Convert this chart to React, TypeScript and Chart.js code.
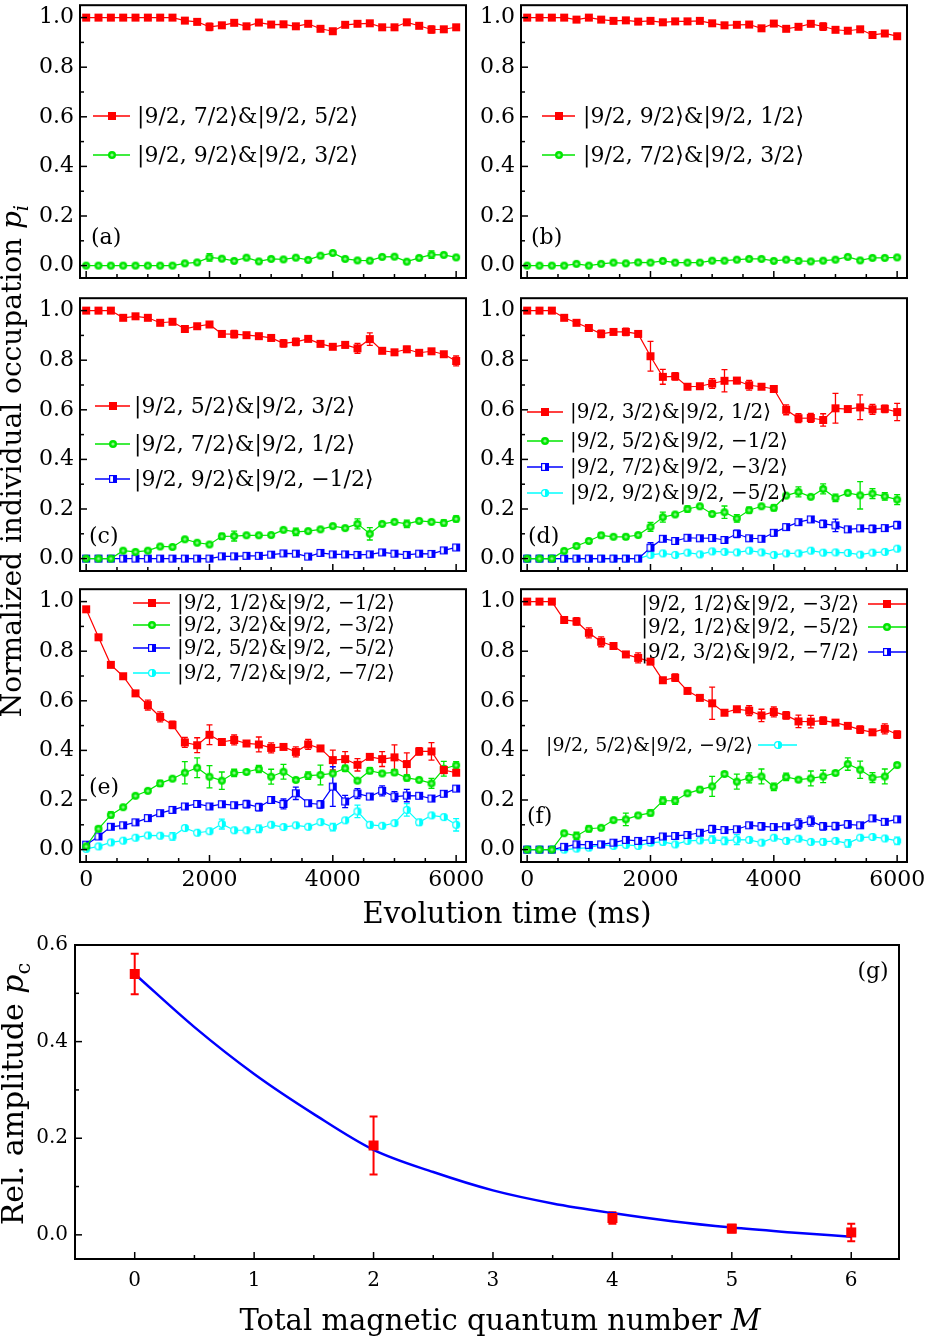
import React, { useEffect, useRef } from "react";
import { Chart, registerables } from "chart.js";
Chart.register(...registerables);

const FONT = '"DejaVu Serif", "Liberation Serif", serif';
const RED = "#ff0000";
const GREEN = "#00e600";
const BLUE = "#0000ff";
const CYAN = "#00ffff";

// ---------- data (a)-(f): evolution time in ms ----------
const TIMES = [0, 200, 400, 600, 800, 1000, 1200, 1400, 1600, 1800, 2000, 2200, 2400, 2600, 2800, 3000, 3200, 3400, 3600, 3800, 4000, 4200, 4400, 4600, 4800, 5000, 5200, 5400, 5600, 5800, 6000];

const aRed = [1, 1, 1, 1, 1, 1, 1, 1, 0.988, 0.983, 0.963, 0.969, 0.979, 0.965, 0.98, 0.972, 0.973, 0.965, 0.975, 0.955, 0.945, 0.971, 0.975, 0.977, 0.961, 0.961, 0.981, 0.967, 0.952, 0.953, 0.961];
const aRedErr = [0, 0, 0, 0, 0, 0, 0, 0, 0, 0, 0.015, 0, 0, 0, 0, 0, 0, 0, 0, 0, 0, 0, 0, 0, 0, 0, 0, 0, 0.015, 0, 0];
const aGreen = [0, 0, 0, 0, 0, 0, 0, 0, 0.009, 0.013, 0.033, 0.028, 0.019, 0.032, 0.017, 0.027, 0.025, 0.032, 0.023, 0.04, 0.051, 0.027, 0.021, 0.02, 0.035, 0.036, 0.016, 0.031, 0.044, 0.043, 0.033];
const aGreenErr = [0, 0, 0, 0, 0, 0, 0, 0, 0, 0, 0.015, 0, 0, 0, 0, 0, 0, 0, 0, 0, 0, 0, 0, 0, 0, 0, 0, 0, 0.015, 0, 0];

const bRed = [1, 1, 1, 1, 0.992, 1, 0.992, 0.987, 0.989, 0.984, 0.987, 0.981, 0.985, 0.985, 0.987, 0.977, 0.969, 0.971, 0.972, 0.957, 0.976, 0.955, 0.963, 0.975, 0.964, 0.951, 0.947, 0.953, 0.93, 0.936, 0.925];
const bRedErr = [0, 0, 0, 0, 0, 0, 0, 0, 0, 0.008, 0, 0, 0, 0, 0, 0, 0, 0, 0, 0, 0, 0, 0, 0, 0.015, 0, 0, 0, 0, 0, 0.008];
const bGreen = [0, 0, 0, 0, 0.007, 0, 0.007, 0.012, 0.009, 0.013, 0.012, 0.019, 0.012, 0.012, 0.012, 0.02, 0.02, 0.024, 0.027, 0.027, 0.019, 0.024, 0.019, 0.017, 0.02, 0.024, 0.035, 0.021, 0.031, 0.031, 0.033];
const bGreenErr = [0, 0, 0, 0, 0, 0, 0, 0, 0, 0.008, 0, 0, 0, 0, 0, 0, 0, 0, 0, 0, 0, 0, 0, 0, 0, 0, 0, 0, 0, 0, 0];

const cRed = [1, 1, 1, 0.971, 0.977, 0.971, 0.951, 0.955, 0.926, 0.937, 0.944, 0.906, 0.905, 0.901, 0.897, 0.89, 0.868, 0.874, 0.886, 0.866, 0.854, 0.862, 0.848, 0.885, 0.838, 0.832, 0.844, 0.83, 0.836, 0.824, 0.797];
const cRedErr = [0, 0, 0, 0, 0, 0, 0, 0, 0, 0, 0, 0, 0.015, 0, 0, 0.012, 0.015, 0.015, 0, 0, 0, 0.012, 0.02, 0.025, 0, 0, 0.012, 0, 0, 0, 0.02];
const cGreen = [0, 0, 0, 0.032, 0.027, 0.032, 0.049, 0.047, 0.078, 0.064, 0.057, 0.09, 0.091, 0.094, 0.094, 0.095, 0.116, 0.108, 0.111, 0.118, 0.131, 0.123, 0.14, 0.1, 0.14, 0.148, 0.14, 0.152, 0.148, 0.144, 0.16];
const cGreenErr = [0, 0, 0, 0, 0, 0, 0, 0, 0, 0, 0, 0.012, 0.02, 0, 0, 0, 0, 0.015, 0, 0, 0, 0, 0.02, 0.025, 0, 0, 0.015, 0, 0, 0.012, 0.012];
const cBlue = [0, 0, 0, 0, 0, 0, 0, 0, 0, 0, 0, 0.009, 0.009, 0.011, 0.011, 0.016, 0.021, 0.02, 0.008, 0.023, 0.017, 0.017, 0.015, 0.017, 0.025, 0.02, 0.015, 0.02, 0.019, 0.033, 0.045];
const cBlueErr = [0, 0, 0, 0, 0, 0, 0, 0, 0, 0, 0, 0, 0, 0, 0, 0, 0, 0, 0, 0, 0, 0, 0, 0, 0, 0, 0, 0, 0, 0.01, 0.01];

const dRed = [1, 1, 1, 0.971, 0.951, 0.93, 0.906, 0.914, 0.914, 0.906, 0.816, 0.733, 0.735, 0.693, 0.695, 0.706, 0.717, 0.718, 0.699, 0.693, 0.684, 0.6, 0.566, 0.567, 0.559, 0.606, 0.603, 0.61, 0.602, 0.604, 0.591];
const dRedErr = [0, 0, 0, 0, 0.008, 0, 0.015, 0, 0.015, 0, 0.06, 0.03, 0.015, 0, 0, 0.02, 0.045, 0.012, 0.02, 0, 0, 0.02, 0.018, 0.018, 0.025, 0.06, 0, 0.05, 0.02, 0.015, 0.035];
const dGreen = [0, 0, 0, 0.031, 0.051, 0.071, 0.094, 0.088, 0.088, 0.095, 0.128, 0.167, 0.178, 0.2, 0.211, 0.18, 0.187, 0.162, 0.195, 0.211, 0.205, 0.254, 0.269, 0.249, 0.281, 0.245, 0.265, 0.255, 0.262, 0.251, 0.238];
const dGreenErr = [0, 0, 0, 0, 0.008, 0, 0.01, 0, 0.01, 0, 0.018, 0.02, 0, 0.012, 0, 0, 0.025, 0.015, 0.012, 0, 0.012, 0, 0.02, 0, 0.02, 0.015, 0, 0.055, 0.02, 0.015, 0.02];
const dBlue = [0, 0, 0, 0, 0, 0, 0, 0, 0, 0, 0.044, 0.08, 0.071, 0.084, 0.082, 0.083, 0.075, 0.1, 0.082, 0.08, 0.104, 0.127, 0.147, 0.158, 0.14, 0.134, 0.118, 0.122, 0.12, 0.123, 0.135];
const dBlueErr = [0, 0, 0, 0, 0, 0, 0, 0, 0, 0, 0.02, 0, 0.01, 0, 0, 0, 0.012, 0.015, 0.01, 0, 0.012, 0.01, 0, 0, 0.015, 0.025, 0, 0, 0.015, 0, 0.015];
const dCyan = [0, 0, 0, 0, 0, 0, 0, 0, 0, 0, 0.015, 0.021, 0.015, 0.024, 0.017, 0.029, 0.027, 0.025, 0.032, 0.025, 0.015, 0.021, 0.021, 0.032, 0.024, 0.025, 0.023, 0.016, 0.024, 0.027, 0.04];
const dCyanErr = [0, 0, 0, 0, 0, 0, 0, 0, 0, 0, 0, 0, 0, 0, 0, 0.008, 0.008, 0, 0, 0, 0, 0, 0, 0, 0, 0, 0, 0, 0, 0, 0];

const eRed = [0.969, 0.856, 0.745, 0.699, 0.63, 0.583, 0.535, 0.503, 0.432, 0.421, 0.463, 0.434, 0.442, 0.428, 0.424, 0.41, 0.414, 0.394, 0.424, 0.408, 0.361, 0.365, 0.342, 0.374, 0.365, 0.372, 0.345, 0.396, 0.396, 0.321, 0.31];
const eRedErr = [0.01, 0.01, 0.01, 0.01, 0.008, 0.02, 0.02, 0.015, 0.02, 0.03, 0.04, 0.005, 0.02, 0.005, 0.03, 0.02, 0.01, 0.02, 0.02, 0.005, 0.04, 0.03, 0.025, 0.005, 0.03, 0.05, 0.045, 0.015, 0.035, 0.015, 0.01];
const eGreen = [0.013, 0.084, 0.14, 0.171, 0.217, 0.237, 0.267, 0.286, 0.31, 0.33, 0.294, 0.278, 0.309, 0.313, 0.325, 0.294, 0.314, 0.281, 0.298, 0.301, 0.307, 0.328, 0.278, 0.318, 0.307, 0.311, 0.289, 0.281, 0.267, 0.326, 0.34];
const eGreenErr = [0, 0.01, 0.012, 0.005, 0.005, 0.005, 0.012, 0.005, 0.045, 0.04, 0.045, 0.035, 0.015, 0.008, 0.015, 0.03, 0.03, 0.008, 0.015, 0.04, 0.005, 0.012, 0.008, 0.012, 0.008, 0.01, 0.012, 0.005, 0.02, 0.03, 0.015];
const eBlue = [0.02, 0.053, 0.092, 0.098, 0.11, 0.127, 0.147, 0.16, 0.174, 0.184, 0.174, 0.183, 0.179, 0.183, 0.171, 0.2, 0.184, 0.227, 0.187, 0.182, 0.254, 0.194, 0.226, 0.214, 0.237, 0.214, 0.218, 0.217, 0.206, 0.225, 0.246];
const eBlueErr = [0.005, 0.01, 0.005, 0.005, 0.005, 0.01, 0.005, 0.005, 0.008, 0.005, 0.005, 0.005, 0.005, 0.015, 0.015, 0.005, 0.02, 0.025, 0.005, 0.015, 0.08, 0.025, 0.02, 0.008, 0.02, 0.02, 0.025, 0.008, 0.005, 0.005, 0.005];
const eCyan = [0.003, 0.013, 0.029, 0.036, 0.048, 0.057, 0.056, 0.053, 0.087, 0.068, 0.074, 0.103, 0.078, 0.078, 0.084, 0.1, 0.091, 0.098, 0.092, 0.111, 0.091, 0.118, 0.154, 0.1, 0.096, 0.107, 0.16, 0.11, 0.138, 0.131, 0.1];
const eCyanErr = [0.005, 0.005, 0.005, 0.005, 0.005, 0.008, 0.005, 0.015, 0.008, 0.005, 0.005, 0.02, 0.005, 0.005, 0.015, 0.005, 0.008, 0.005, 0.005, 0.008, 0.015, 0.008, 0.025, 0.012, 0.005, 0.005, 0.025, 0.012, 0.005, 0.005, 0.025];

const fRed = [1, 1, 1, 0.926, 0.92, 0.874, 0.838, 0.821, 0.787, 0.773, 0.758, 0.683, 0.693, 0.64, 0.612, 0.59, 0.552, 0.566, 0.56, 0.541, 0.555, 0.541, 0.517, 0.516, 0.52, 0.512, 0.499, 0.484, 0.473, 0.487, 0.464];
const fRedErr = [0, 0, 0, 0.008, 0.015, 0.02, 0.02, 0.008, 0.008, 0.02, 0.008, 0.008, 0.015, 0.008, 0.008, 0.065, 0.008, 0.008, 0.02, 0.025, 0.02, 0.015, 0.025, 0.025, 0.015, 0.008, 0.008, 0.015, 0.008, 0.02, 0.015];
const fGreen = [0, 0, 0, 0.066, 0.055, 0.084, 0.088, 0.119, 0.122, 0.138, 0.148, 0.197, 0.197, 0.227, 0.242, 0.255, 0.305, 0.274, 0.289, 0.295, 0.253, 0.293, 0.282, 0.287, 0.295, 0.309, 0.345, 0.322, 0.29, 0.295, 0.341];
const fGreenErr = [0, 0, 0, 0.008, 0.015, 0.012, 0.008, 0.008, 0.025, 0.008, 0.012, 0.015, 0.015, 0.008, 0.01, 0.04, 0.008, 0.03, 0.02, 0.03, 0.015, 0.015, 0.008, 0.03, 0.025, 0.008, 0.025, 0.035, 0.02, 0.03, 0.01];
const fBlue = [0, 0, 0, 0.011, 0.021, 0.019, 0.021, 0.028, 0.039, 0.035, 0.039, 0.053, 0.055, 0.059, 0.068, 0.083, 0.079, 0.082, 0.098, 0.094, 0.091, 0.094, 0.104, 0.115, 0.094, 0.095, 0.102, 0.098, 0.126, 0.112, 0.122];
const fBlueErr = [0, 0, 0, 0.005, 0.008, 0.005, 0.005, 0.005, 0.008, 0.008, 0.005, 0.005, 0.005, 0.005, 0.005, 0.015, 0.008, 0.005, 0.005, 0.015, 0.008, 0.008, 0.02, 0.02, 0.015, 0.015, 0.015, 0.005, 0.005, 0.005, 0.008];
const fCyan = [0, 0, 0, 0, 0.004, 0.008, 0.019, 0.015, 0.019, 0.015, 0.028, 0.031, 0.021, 0.035, 0.037, 0.04, 0.035, 0.04, 0.039, 0.028, 0.048, 0.035, 0.044, 0.031, 0.031, 0.035, 0.025, 0.048, 0.051, 0.045, 0.035];
const fCyanErr = [0, 0, 0, 0, 0, 0, 0, 0, 0, 0, 0.01, 0.012, 0, 0, 0, 0.015, 0.015, 0.02, 0, 0, 0, 0, 0, 0, 0.012, 0, 0.015, 0, 0, 0, 0.015];

// ---------- data (g) ----------
const M_VALUES = [0, 2, 4, 5, 6];
const PC_VALUES = [0.54, 0.185, 0.035, 0.013, 0.005];
const PC_ERRORS = [0.042, 0.06, 0.012, 0.008, 0.018];
const FIT_M = [0, 0.5, 1, 1.5, 2, 2.5, 3, 3.5, 4, 4.5, 5, 5.5, 6];
const FIT_PC = [0.54, 0.43, 0.333, 0.25, 0.176, 0.13, 0.092, 0.065, 0.045, 0.028, 0.015, 0.005, -0.004];

// ---------- ticks ----------
const Y_TICKS = [0, 0.2, 0.4, 0.6, 0.8, 1.0];
const Y_MINOR = [0.1, 0.3, 0.5, 0.7, 0.9];
const X_TICKS = [0, 2000, 4000, 6000];
const X_MINOR = [500, 1000, 1500, 2500, 3000, 3500, 4500, 5000, 5500];
const M_TICKS = [0, 1, 2, 3, 4, 5, 6];
const M_MINOR = [0.5, 1.5, 2.5, 3.5, 4.5, 5.5];
const PC_TICKS = [0, 0.2, 0.4, 0.6];
const PC_MINOR = [0.1, 0.3, 0.5];

type Shape = "square" | "circle" | "halfSquare" | "halfCircle";

function makeMarker(shape: Shape, color: string, size: number): HTMLCanvasElement {
  const c = document.createElement("canvas");
  const s = Math.ceil(size) + 4;
  c.width = s;
  c.height = s;
  const g = c.getContext("2d")!;
  const cx = s / 2, cy = s / 2, r = size / 2;
  if (shape === "square") {
    g.fillStyle = color;
    g.fillRect(cx - r, cy - r, size, size);
  } else if (shape === "circle") {
    g.fillStyle = color;
    g.beginPath(); g.arc(cx, cy, r, 0, Math.PI * 2); g.fill();
    g.fillStyle = "rgba(255,255,255,0.55)";
    g.beginPath(); g.arc(cx, cy, r * 0.4, 0, Math.PI * 2); g.fill();
  } else if (shape === "halfSquare") {
    g.fillStyle = "#fff";
    g.fillRect(cx - r, cy - r, size, size);
    g.fillStyle = color;
    g.fillRect(cx, cy - r, r, size);
    g.strokeStyle = color; g.lineWidth = 1.2;
    g.strokeRect(cx - r + 0.6, cy - r + 0.6, size - 1.2, size - 1.2);
  } else {
    g.fillStyle = "#fff";
    g.beginPath(); g.arc(cx, cy, r, 0, Math.PI * 2); g.fill();
    g.fillStyle = color;
    g.beginPath(); g.moveTo(cx, cy); g.arc(cx, cy, r, -Math.PI / 2, Math.PI / 2); g.closePath(); g.fill();
    g.strokeStyle = color; g.lineWidth = 1.2;
    g.beginPath(); g.arc(cx, cy, r - 0.6, 0, Math.PI * 2); g.stroke();
  }
  return c;
}

type Series = { label: string; values: number[]; errors: number[]; color: string; shape: Shape };
type LegendPos = { x1: number; x2: number; y: number; tx: number; align: "left" | "right"; size: number };
type PanelSpec = { key: string; left: number; top: number; showX: boolean; series: Series[]; legend: LegendPos[]; tag: { text: string; x: number; y: number } };

const AREA_W = 386;
const AREA_H = 274;

const lp = (x1: number, x2: number, tx: number, ys: number[], size: number): LegendPos[] =>
  ys.map((y) => ({ x1, x2, y, tx, align: "left" as const, size }));

const PANELS: PanelSpec[] = [
  {
    key: "a", left: 80, top: 4, showX: false, tag: { text: "(a)", x: 91, y: 238 },
    series: [
      { label: "|9/2, 7/2⟩&|9/2, 5/2⟩", values: aRed, errors: aRedErr, color: RED, shape: "square" },
      { label: "|9/2, 9/2⟩&|9/2, 3/2⟩", values: aGreen, errors: aGreenErr, color: GREEN, shape: "circle" },
    ],
    legend: lp(93, 130, 137, [116, 155], 22),
  },
  {
    key: "b", left: 521, top: 4, showX: false, tag: { text: "(b)", x: 531, y: 238 },
    series: [
      { label: "|9/2, 9/2⟩&|9/2, 1/2⟩", values: bRed, errors: bRedErr, color: RED, shape: "square" },
      { label: "|9/2, 7/2⟩&|9/2, 3/2⟩", values: bGreen, errors: bGreenErr, color: GREEN, shape: "circle" },
    ],
    legend: lp(542, 575, 583, [116, 155], 22),
  },
  {
    key: "c", left: 80, top: 297, showX: false, tag: { text: "(c)", x: 89, y: 537 },
    series: [
      { label: "|9/2, 5/2⟩&|9/2, 3/2⟩", values: cRed, errors: cRedErr, color: RED, shape: "square" },
      { label: "|9/2, 7/2⟩&|9/2, 1/2⟩", values: cGreen, errors: cGreenErr, color: GREEN, shape: "circle" },
      { label: "|9/2, 9/2⟩&|9/2, −1/2⟩", values: cBlue, errors: cBlueErr, color: BLUE, shape: "halfSquare" },
    ],
    legend: lp(95, 130, 134, [406, 444, 479], 22),
  },
  {
    key: "d", left: 521, top: 297, showX: false, tag: { text: "(d)", x: 528, y: 537 },
    series: [
      { label: "|9/2, 3/2⟩&|9/2, 1/2⟩", values: dRed, errors: dRedErr, color: RED, shape: "square" },
      { label: "|9/2, 5/2⟩&|9/2, −1/2⟩", values: dGreen, errors: dGreenErr, color: GREEN, shape: "circle" },
      { label: "|9/2, 7/2⟩&|9/2, −3/2⟩", values: dBlue, errors: dBlueErr, color: BLUE, shape: "halfSquare" },
      { label: "|9/2, 9/2⟩&|9/2, −5/2⟩", values: dCyan, errors: dCyanErr, color: CYAN, shape: "halfCircle" },
    ],
    legend: lp(527, 563, 570, [412, 441, 467, 493], 20),
  },
  {
    key: "e", left: 80, top: 588, showX: true, tag: { text: "(e)", x: 89, y: 788 },
    series: [
      { label: "|9/2, 1/2⟩&|9/2, −1/2⟩", values: eRed, errors: eRedErr, color: RED, shape: "square" },
      { label: "|9/2, 3/2⟩&|9/2, −3/2⟩", values: eGreen, errors: eGreenErr, color: GREEN, shape: "circle" },
      { label: "|9/2, 5/2⟩&|9/2, −5/2⟩", values: eBlue, errors: eBlueErr, color: BLUE, shape: "halfSquare" },
      { label: "|9/2, 7/2⟩&|9/2, −7/2⟩", values: eCyan, errors: eCyanErr, color: CYAN, shape: "halfCircle" },
    ],
    legend: lp(133, 170, 177, [603, 625, 648, 673], 20),
  },
  {
    key: "f", left: 521, top: 588, showX: true, tag: { text: "(f)", x: 527, y: 817 },
    series: [
      { label: "|9/2, 1/2⟩&|9/2, −3/2⟩", values: fRed, errors: fRedErr, color: RED, shape: "square" },
      { label: "|9/2, 1/2⟩&|9/2, −5/2⟩", values: fGreen, errors: fGreenErr, color: GREEN, shape: "circle" },
      { label: "|9/2, 3/2⟩&|9/2, −7/2⟩", values: fBlue, errors: fBlueErr, color: BLUE, shape: "halfSquare" },
      { label: "|9/2, 5/2⟩&|9/2, −9/2⟩", values: fCyan, errors: fCyanErr, color: CYAN, shape: "halfCircle" },
    ],
    legend: [
      { x1: 868, x2: 906, y: 604, tx: 859, align: "right", size: 20 },
      { x1: 868, x2: 906, y: 627, tx: 859, align: "right", size: 20 },
      { x1: 868, x2: 906, y: 652, tx: 859, align: "right", size: 20 },
      { x1: 758, x2: 797, y: 745, tx: 753, align: "right", size: 19 },
    ],
  },
];

function errorBarPlugin(cap: number, width: number) {
  return {
    id: "errorBars",
    beforeDatasetsDraw(chart: any) {
      const ctx = chart.ctx;
      const y = chart.scales.y;
      ctx.save();
      chart.data.datasets.forEach((ds: any, i: number) => {
        if (!ds.errors) return;
        const meta = chart.getDatasetMeta(i);
        ctx.strokeStyle = ds.borderColor;
        ctx.lineWidth = width;
        meta.data.forEach((el: any, j: number) => {
          const e = ds.errors[j];
          if (!e) return;
          const v = ds.data[j].y;
          const px = el.x;
          const yt = y.getPixelForValue(v + e);
          const yb = y.getPixelForValue(v - e);
          ctx.beginPath();
          ctx.moveTo(px, yt); ctx.lineTo(px, yb);
          ctx.moveTo(px - cap, yt); ctx.lineTo(px + cap, yt);
          ctx.moveTo(px - cap, yb); ctx.lineTo(px + cap, yb);
          ctx.stroke();
        });
      });
      ctx.restore();
    },
  };
}

function framePlugin(xMajor: number[], xMinor: number[], yMajor: number[], yMinor: number[]) {
  return {
    id: "frame",
    afterDraw(chart: any) {
      const { ctx, chartArea } = chart;
      const { left, right, top, bottom } = chartArea;
      const xs = chart.scales.x, ys = chart.scales.y;
      ctx.save();
      ctx.strokeStyle = "#000";
      ctx.lineWidth = 1.5;
      const tick = (x1: number, y1: number, x2: number, y2: number) => {
        ctx.beginPath(); ctx.moveTo(x1, y1); ctx.lineTo(x2, y2); ctx.stroke();
      };
      xMajor.forEach((v) => { const p = xs.getPixelForValue(v); tick(p, bottom, p, bottom - 7); });
      xMinor.forEach((v) => { const p = xs.getPixelForValue(v); tick(p, bottom, p, bottom - 4); });
      yMajor.forEach((v) => { const p = ys.getPixelForValue(v); tick(left, p, left + 7, p); });
      yMinor.forEach((v) => { const p = ys.getPixelForValue(v); tick(left, p, left + 4, p); });
      ctx.lineWidth = 2;
      ctx.strokeRect(left, top, right - left, bottom - top);
      ctx.restore();
    },
  };
}

function Panel({ spec }: { spec: PanelSpec }) {
  const ref = useRef<HTMLCanvasElement>(null);
  const yw = 70;
  const padTop = 4;
  const padRight = 22;
  const xh = spec.showX ? 40 : 6;
  const cl = spec.left - yw;
  const ct = spec.top - padTop;
  const cw = yw + AREA_W + padRight;
  const ch = padTop + AREA_H + xh;

  useEffect(() => {
    const markers = spec.series.map((s) => makeMarker(s.shape, s.color, 8));
    const annot = {
      id: "annot",
      afterDraw(chart: any) {
        const ctx = chart.ctx;
        ctx.save();
        spec.legend.forEach((L, i) => {
          const s = spec.series[i];
          const x1 = L.x1 - cl, x2 = L.x2 - cl, y = L.y - ct;
          ctx.strokeStyle = s.color;
          ctx.lineWidth = 1.5;
          ctx.beginPath(); ctx.moveTo(x1, y); ctx.lineTo(x2, y); ctx.stroke();
          const img = markers[i];
          ctx.drawImage(img, Math.round((x1 + x2) / 2 - img.width / 2), Math.round(y - img.height / 2));
          ctx.fillStyle = "#000";
          ctx.font = `${L.size}px ${FONT}`;
          ctx.textBaseline = "middle";
          ctx.textAlign = L.align;
          ctx.fillText(s.label, L.tx - cl, y + 1);
        });
        ctx.font = `22px ${FONT}`;
        ctx.fillStyle = "#000";
        ctx.textAlign = "left";
        ctx.textBaseline = "middle";
        ctx.fillText(spec.tag.text, spec.tag.x - cl, spec.tag.y - ct);
        ctx.restore();
      },
    };
    const chart = new Chart(ref.current!, {
      type: "scatter",
      data: {
        datasets: spec.series.map((s, i) => ({
          label: s.label,
          data: TIMES.map((t, j) => ({ x: t, y: s.values[j] })),
          errors: s.errors,
          showLine: true,
          borderColor: s.color,
          backgroundColor: s.color,
          borderWidth: 1.2,
          pointStyle: markers[i],
          pointRadius: 4,
          pointHoverRadius: 4,
          tension: 0,
        })) as any,
      },
      options: {
        responsive: false,
        animation: false,
        events: [],
        layout: { padding: { left: 0, top: padTop, right: padRight, bottom: 0 } },
        plugins: { legend: { display: false }, tooltip: { enabled: false } },
        scales: {
          x: {
            type: "linear",
            min: -100,
            max: 6160,
            grid: { display: false, drawTicks: false },
            border: { display: false },
            afterBuildTicks: (s: any) => { s.ticks = X_TICKS.map((v) => ({ value: v })); },
            ticks: {
              display: spec.showX,
              font: { family: FONT, size: 22 },
              color: "#000",
              padding: 5,
              maxRotation: 0,
              autoSkip: false,
              callback: (v: any) => String(v),
            },
            afterFit: (s: any) => { s.height = xh; s.paddingLeft = 0; s.paddingRight = 0; },
          },
          y: {
            type: "linear",
            min: -0.05,
            max: 1.05,
            grid: { display: false, drawTicks: false },
            border: { display: false },
            afterBuildTicks: (s: any) => { s.ticks = Y_TICKS.map((v) => ({ value: v })); },
            ticks: {
              font: { family: FONT, size: 22 },
              color: "#000",
              padding: 6,
              callback: (v: any) => Number(v).toFixed(1),
            },
            afterFit: (s: any) => { s.width = yw; s.paddingTop = 0; s.paddingBottom = 0; },
          },
        },
      } as any,
      plugins: [errorBarPlugin(3, 1.3), framePlugin(X_TICKS, X_MINOR, Y_TICKS, Y_MINOR), annot],
    });
    return () => chart.destroy();
  }, []);

  return (
    <canvas
      ref={ref}
      width={cw}
      height={ch}
      style={{ position: "absolute", left: cl, top: ct, width: cw, height: ch }}
    />
  );
}

function PanelG() {
  const ref = useRef<HTMLCanvasElement>(null);
  const cl = 0, ct = 930, cw = 930, ch = 374;
  useEffect(() => {
    const marker = makeMarker("square", RED, 10);
    const annot = {
      id: "annotG",
      afterDraw(chart: any) {
        const ctx = chart.ctx;
        ctx.save();
        ctx.font = `22px ${FONT}`;
        ctx.fillStyle = "#000";
        ctx.textAlign = "center";
        ctx.textBaseline = "middle";
        ctx.fillText("(g)", 873 - cl, 972 - ct);
        ctx.restore();
      },
    };
    const chart = new Chart(ref.current!, {
      type: "scatter",
      data: {
        datasets: [
          {
            label: "measured",
            data: M_VALUES.map((m, i) => ({ x: m, y: PC_VALUES[i] })),
            errors: PC_ERRORS,
            showLine: false,
            borderColor: RED,
            backgroundColor: RED,
            pointStyle: marker,
            pointRadius: 5,
          },
          {
            label: "fit",
            data: FIT_M.map((m, i) => ({ x: m, y: FIT_PC[i] })),
            showLine: true,
            borderColor: BLUE,
            backgroundColor: BLUE,
            borderWidth: 2.5,
            pointRadius: 0,
            cubicInterpolationMode: "monotone",
          },
        ] as any,
      },
      options: {
        responsive: false,
        animation: false,
        events: [],
        layout: { padding: { left: 0, top: 15, right: 31, bottom: 0 } },
        plugins: { legend: { display: false }, tooltip: { enabled: false } },
        scales: {
          x: {
            type: "linear",
            min: -0.5,
            max: 6.4,
            grid: { display: false, drawTicks: false },
            border: { display: false },
            afterBuildTicks: (s: any) => { s.ticks = M_TICKS.map((v) => ({ value: v })); },
            ticks: { font: { family: FONT, size: 20 }, color: "#000", padding: 10, maxRotation: 0, autoSkip: false, callback: (v: any) => String(v) },
            afterFit: (s: any) => { s.height = 45; s.paddingLeft = 0; s.paddingRight = 0; },
          },
          y: {
            type: "linear",
            min: -0.05,
            max: 0.6,
            grid: { display: false, drawTicks: false },
            border: { display: false },
            afterBuildTicks: (s: any) => { s.ticks = PC_TICKS.map((v) => ({ value: v })); },
            ticks: { font: { family: FONT, size: 20 }, color: "#000", padding: 7, callback: (v: any) => Number(v).toFixed(1) },
            afterFit: (s: any) => { s.width = 75; s.paddingTop = 0; s.paddingBottom = 0; },
          },
        },
      } as any,
      plugins: [errorBarPlugin(4, 2), framePlugin(M_TICKS, M_MINOR, PC_TICKS, PC_MINOR), annot],
    });
    return () => chart.destroy();
  }, []);
  return (
    <canvas ref={ref} width={cw} height={ch} style={{ position: "absolute", left: cl, top: ct, width: cw, height: ch }} />
  );
}

const titleBase: React.CSSProperties = {
  position: "absolute",
  fontFamily: FONT,
  color: "#000",
  lineHeight: 1,
  whiteSpace: "nowrap",
};

export default function App() {
  return (
    <div style={{ position: "absolute", left: 0, top: 0, width: 930, height: 1338, background: "#fff", overflow: "hidden" }}>
      {PANELS.map((p) => (
        <Panel key={p.key} spec={p} />
      ))}
      <PanelG />
      <div style={{ ...titleBase, fontSize: 28, left: 15, top: 461, transform: "translate(-50%, -50%) rotate(-90deg)" }}>
        Normalized individual occupation <i>p</i>
        <sub style={{ fontSize: "0.7em", fontStyle: "italic" }}>i</sub>
      </div>
      <div style={{ ...titleBase, fontSize: 29, left: 507, top: 913, transform: "translate(-50%, -50%)" }}>
        Evolution time (ms)
      </div>
      <div style={{ ...titleBase, fontSize: 30, left: 16, top: 1094, transform: "translate(-50%, -50%) rotate(-90deg)" }}>
        Rel. amplitude <i>p</i>
        <sub style={{ fontSize: "0.7em" }}>c</sub>
      </div>
      <div style={{ ...titleBase, fontSize: 29, left: 500, top: 1320, transform: "translate(-50%, -50%)" }}>
        Total magnetic quantum number <i>M</i>
      </div>
    </div>
  );
}
